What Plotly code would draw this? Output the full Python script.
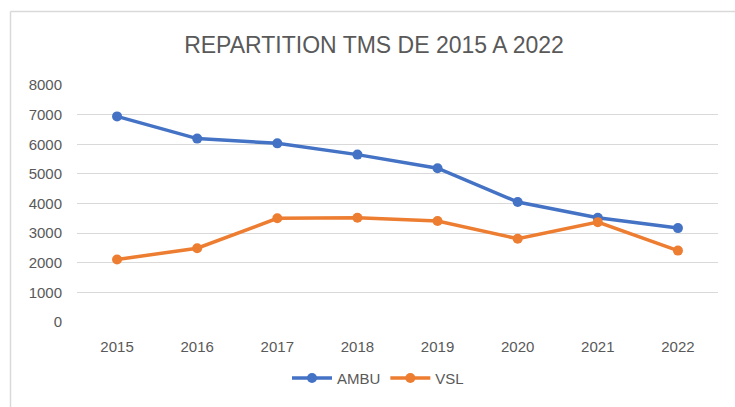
import plotly.graph_objects as go

years = ["2015", "2016", "2017", "2018", "2019", "2020", "2021", "2022"]
ambu = [6940, 6190, 6030, 5650, 5190, 4050, 3520, 3170]
vsl = [2110, 2490, 3500, 3520, 3410, 2810, 3370, 2410]
y_ticks = [0, 1000, 2000, 3000, 4000, 5000, 6000, 7000, 8000]

FONT = "Liberation Sans Narrow, Liberation Sans, sans-serif"
GREY = "#595959"

fig = go.Figure()
fig.add_trace(go.Scatter(x=years, y=ambu, name="AMBU", mode="lines+markers",
                         line=dict(color="#4472C4", width=3.5),
                         marker=dict(color="#4472C4", size=10)))
fig.add_trace(go.Scatter(x=years, y=vsl, name="VSL", mode="lines+markers",
                         line=dict(color="#ED7D31", width=3.5),
                         marker=dict(color="#ED7D31", size=10)))

L, R, T, B = 77, 17, 85, 82
W, H = 735, 407
pw, ph = W - L - R, H - T - B

def px(x):
    return (x - L) / pw

def py(y):
    return (H - B - y) / ph

fig.update_layout(
    width=W, height=H,
    margin=dict(l=L, r=R, t=T, b=B),
    paper_bgcolor="white", plot_bgcolor="white",
    font=dict(family=FONT, color=GREY, size=15),
    title=dict(text="REPARTITION TMS DE 2015 A 2022", x=px(374), xref="paper",
               xanchor="center", y=1 - 45 / H, yanchor="middle",
               font=dict(family=FONT, size=23, color=GREY)),
    xaxis=dict(type="category", range=[-0.5, 7.5], showgrid=False,
               showline=False, zeroline=False, tickfont=dict(size=15, color=GREY),
               ticks="", ticklabelstandoff=14),
    yaxis=dict(range=[0, 8000], tickvals=y_ticks, showgrid=True,
               gridcolor="#d9d9d9", gridwidth=1, zeroline=False, showline=False,
               tickfont=dict(size=15, color=GREY), ticks="", ticklabelstandoff=14),
    legend=dict(orientation="h", x=px(378), xanchor="center", y=py(382),
                yanchor="middle", font=dict(size=15, color=GREY),
                itemwidth=40, bgcolor="rgba(0,0,0,0)"),
    showlegend=True,
    shapes=[
        dict(type="line", xref="paper", yref="paper", x0=px(10.5), x1=px(10.5),
             y0=py(10.5), y1=py(420), line=dict(color="#d9d9d9", width=1.5)),
        dict(type="line", xref="paper", yref="paper", x0=px(10.5), x1=px(745),
             y0=py(10.5), y1=py(10.5), line=dict(color="#d9d9d9", width=1.5)),
    ],
)

fig.write_html("out.html", config={"displayModeBar": False})

with open("out.html", "r", encoding="utf-8") as f:
    html = f.read()
html = html.replace("<head>", "<head><style>html,body{margin:0;padding:0;overflow:hidden;}</style>", 1)
with open("out.html", "w", encoding="utf-8") as f:
    f.write(html)
